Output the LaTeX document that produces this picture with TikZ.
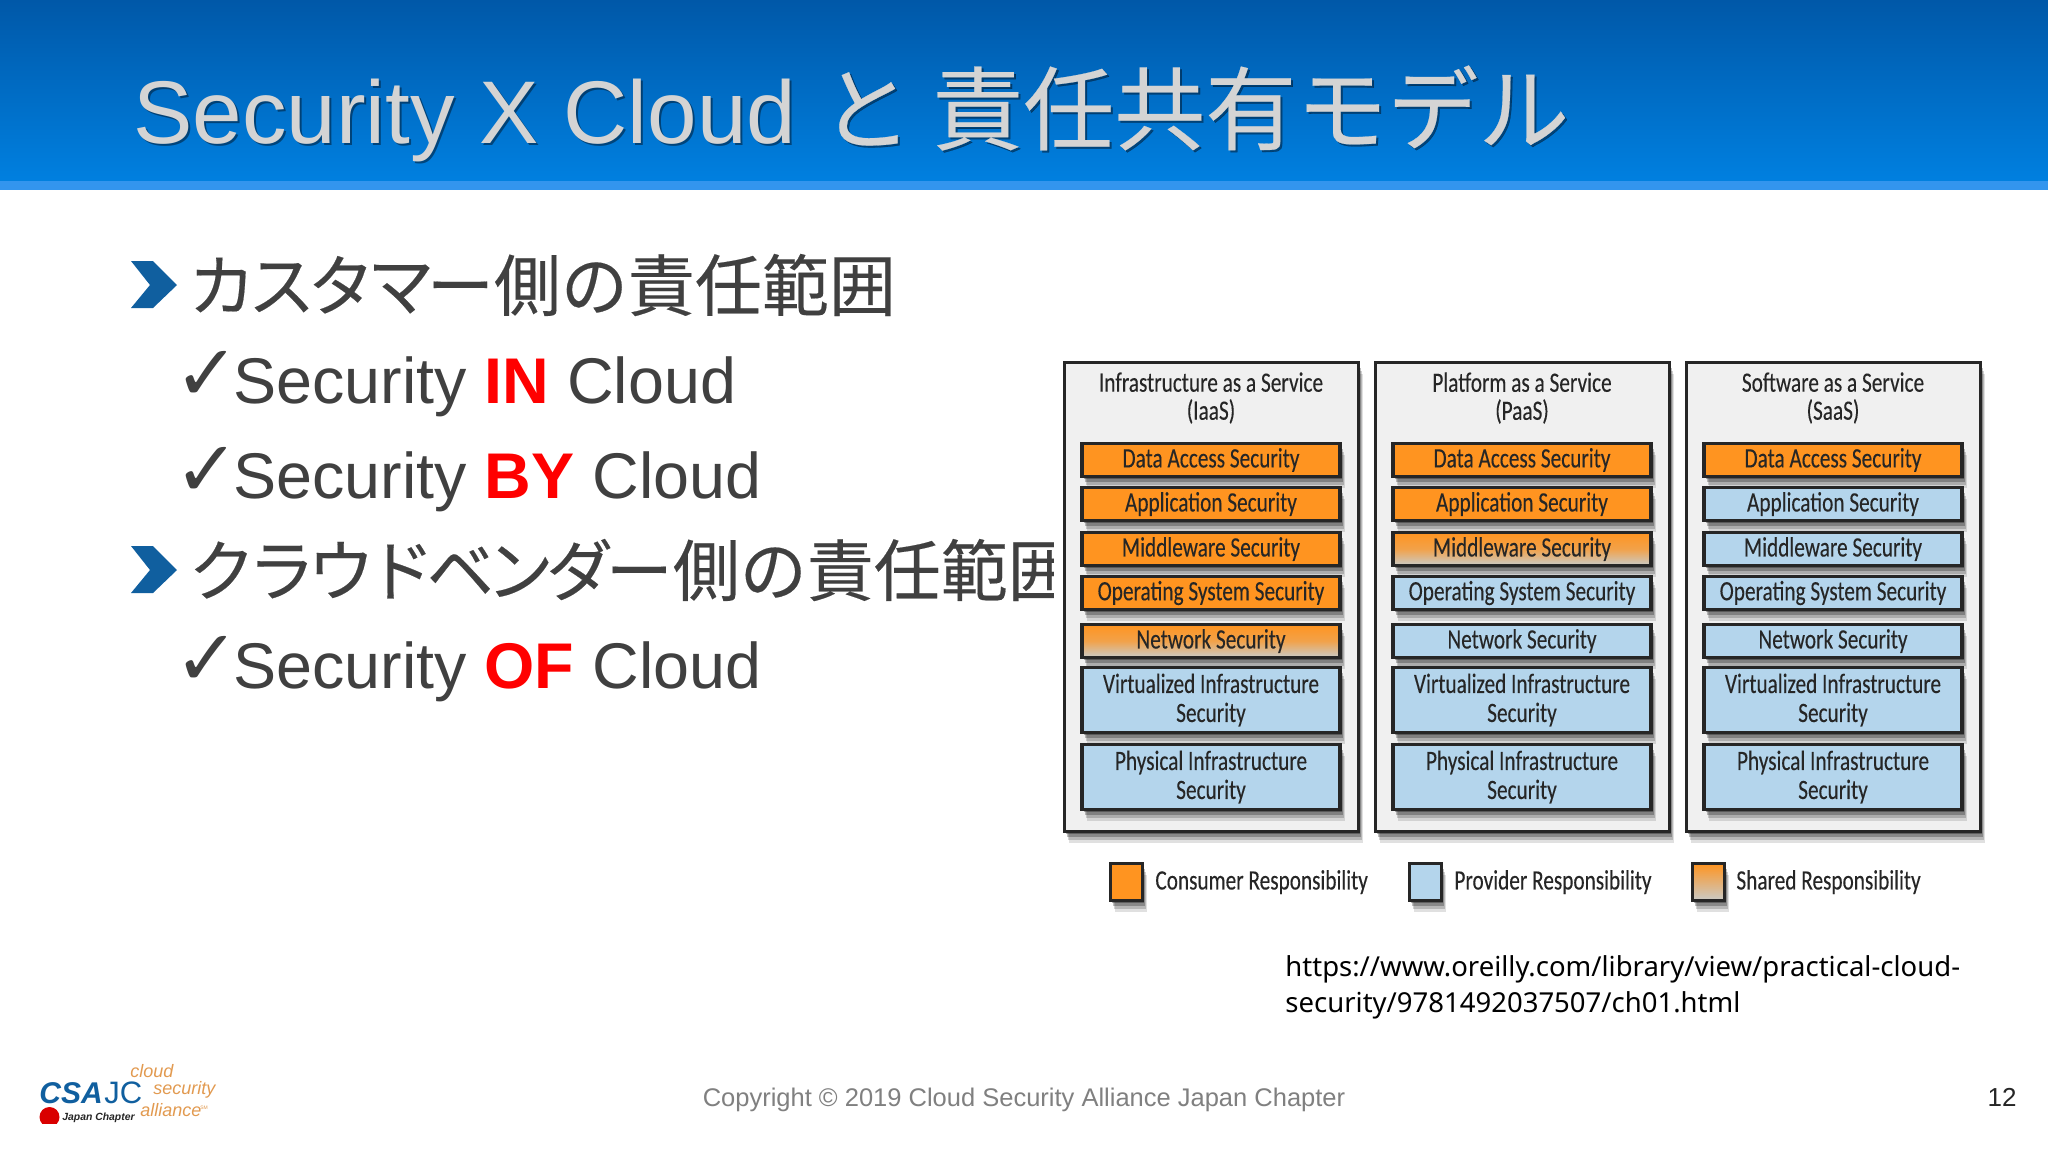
\documentclass[tikz,border=0pt]{standalone}
\usepackage{fontspec}
\usetikzlibrary{shadows}
\setmainfont{Liberation Sans}
\newfontfamily\cjkfont[FakeBold=0.25]{Noto Sans CJK JP}
\newfontfamily\kanafont[FakeBold=0.25,LetterSpace=-11]{Noto Sans CJK JP}
\newfontfamily\urlfont{Noto Sans}
\newfontfamily\narrowfont[FakeStretch=0.76,FakeBold=0.2]{Carlito}
\newfontfamily\checkfont{DejaVu Sans}
\definecolor{bodygray}{HTML}{404040}
\definecolor{consumer}{HTML}{FF9420}
\definecolor{provider}{HTML}{B4D5EC}
\definecolor{sharedlow}{HTML}{C9CBC8}
\definecolor{panelgray}{HTML}{F0F0F0}
\definecolor{csablue}{HTML}{105F9F}
\definecolor{csaorange}{HTML}{E29A50}
\definecolor{headtop}{HTML}{0058A8}
\definecolor{headlow}{HTML}{0080E0}
\definecolor{headstrip}{HTML}{3395EE}

\begin{document}
\begin{tikzpicture}[x=0.5pt, y=-0.5pt,
	softshadow/.style={drop shadow={shadow xshift=2.5pt, shadow yshift=-5.5pt, fill=black, opacity=0.12}, drop shadow={shadow xshift=2pt, shadow yshift=-4pt, fill=black, opacity=0.18}, drop shadow={shadow xshift=1.5pt, shadow yshift=-2.5pt, fill=black, opacity=0.25}, drop shadow={shadow xshift=1pt, shadow yshift=-1pt, fill=black, opacity=0.3}},
	panelbox/.style={draw=black!85, line width=1.5pt, fill=panelgray, minimum width=147pt, minimum height=234.5pt, inner sep=0pt, softshadow},
	secbox/.style={draw=black!85, line width=1.7pt, minimum width=129pt, align=center, inner sep=0pt, text=black!85, font=\narrowfont\fontsize{14}{14.5}\selectfont, softshadow},
	consumerbox/.style={secbox, fill=consumer, minimum height=16.5pt},
	providerbox/.style={secbox, fill=provider, minimum height=16.5pt},
	sharedbox/.style={secbox, top color=consumer, bottom color=sharedlow, middle color=consumer!75!sharedlow, minimum height=16.5pt},
	tallbox/.style={providerbox, minimum height=32.5pt},
	swatch/.style={draw=black!85, line width=1.5pt, minimum width=16pt, minimum height=18.5pt, inner sep=0pt, softshadow},
	paneltitle/.style={align=center, inner sep=0pt, text=black!85, font=\narrowfont\fontsize{14}{14}\selectfont},
	legendtext/.style={anchor=west, inner sep=0pt, text=black!85, font=\narrowfont\fontsize{14}{15}\selectfont},
	headline/.style={anchor=west, inner sep=0pt, text=bodygray, font=\fontsize{33.5}{36}\selectfont},
	subline/.style={anchor=base west, inner sep=0pt, text=bodygray, font=\fontsize{32.3}{36}\selectfont},
	tick/.style={anchor=base west, inner sep=0pt, text=bodygray, font=\checkfont\fontsize{39}{44}\selectfont},
	titletext/.style={anchor=base west, inner sep=0pt, font=\fontsize{44.5}{50}\selectfont}]
	
	\useasboundingbox (0,0) rectangle (2048,1152);
	\fill[white] (0,0) rectangle (2048,1152);
	
	% header
	\shade[top color=headtop, bottom color=headlow] (0,0) rectangle (2048,182);
	\fill[headstrip] (0,181) rectangle (2048,190);
	\node[titletext, text=black!70!headtop, opacity=0.55] at (135,145) {Security X Cloud {\cjkfont\fontsize{45.5}{50}\selectfont と 責任共有モデル}};
	\node[titletext, text=black!17] (title) at (133,143) {Security X Cloud {\cjkfont\fontsize{45.5}{50}\selectfont と 責任共有モデル}};
	
	% left text
	\fill[csablue] (131,261) -- (153,261) -- (177,285) -- (153,308) -- (131,308) -- (150,285) -- cycle;
	\node[headline] (h1) at (188,285) {{\kanafont カスタマー}{\cjkfont 側の責任範囲}};
	\node[tick] (t1) at (174,400) {✓};
	\node[subline] (s1) at (233,403) {Security {\color{red}\textbf{IN}} Cloud};
	\node[tick] (t2) at (174,496) {✓};
	\node[subline] (s2) at (233,498) {Security {\color{red}\textbf{BY}} Cloud};
	\fill[csablue] (131,546) -- (153,546) -- (177,570) -- (153,593) -- (131,593) -- (150,570) -- cycle;
	\node[headline] (h2) at (188,570) {{\kanafont クラウドベンダー}{\cjkfont 側の責任範囲}};
	\node[tick] (t3) at (174,685) {✓};
	\node[subline] (s3) at (233,688) {Security {\color{red}\textbf{OF}} Cloud};
	
	% the picture covers the end of the second line
	\fill[white] (1054,340) rectangle (2000,930);
	
	% panels
	\node[panelbox] (iaas) at (1211,597) {};
	\node[panelbox] (paas) at (1522,597) {};
	\node[panelbox] (saas) at (1833,597) {};
	\node[paneltitle] (iaastitle) at (1211,398) {Infrastructure as a Service\\(IaaS)};
	\node[paneltitle] (paastitle) at (1522,398) {Platform as a Service\\(PaaS)};
	\node[paneltitle] (saastitle) at (1833,398) {Software as a Service\\(SaaS)};
	
	\node[consumerbox] (i1) at (1211,460) {Data Access Security};
	\node[consumerbox] (i2) at (1211,504) {Application Security};
	\node[consumerbox] (i3) at (1211,549) {Middleware Security};
	\node[consumerbox] (i4) at (1211,593) {Operating System Security};
	\node[sharedbox] (i5) at (1211,641) {Network Security};
	\node[tallbox] (i6) at (1211,700) {Virtualized Infrastructure\\Security};
	\node[tallbox] (i7) at (1211,777) {Physical Infrastructure\\Security};
	
	\node[consumerbox] (p1) at (1522,460) {Data Access Security};
	\node[consumerbox] (p2) at (1522,504) {Application Security};
	\node[sharedbox] (p3) at (1522,549) {Middleware Security};
	\node[providerbox] (p4) at (1522,593) {Operating System Security};
	\node[providerbox] (p5) at (1522,641) {Network Security};
	\node[tallbox] (p6) at (1522,700) {Virtualized Infrastructure\\Security};
	\node[tallbox] (p7) at (1522,777) {Physical Infrastructure\\Security};
	
	\node[consumerbox] (s1b) at (1833,460) {Data Access Security};
	\node[providerbox] (s2b) at (1833,504) {Application Security};
	\node[providerbox] (s3b) at (1833,549) {Middleware Security};
	\node[providerbox] (s4b) at (1833,593) {Operating System Security};
	\node[providerbox] (s5b) at (1833,641) {Network Security};
	\node[tallbox] (s6b) at (1833,700) {Virtualized Infrastructure\\Security};
	\node[tallbox] (s7b) at (1833,777) {Physical Infrastructure\\Security};
	
	% legend
	\node[swatch, fill=consumer] (l1) at (1126,882) {};
	\node[legendtext] (lt1) at (1155,882) {Consumer Responsibility};
	\node[swatch, fill=provider] (l2) at (1425,882) {};
	\node[legendtext] (lt2) at (1454,882) {Provider Responsibility};
	\node[swatch, top color=consumer, bottom color=sharedlow] (l3) at (1708,882) {};
	\node[legendtext] (lt3) at (1736,882) {Shared Responsibility};
	
	% source
	\node[anchor=base west, align=left, inner sep=0pt, text=black, font=\urlfont\fontsize{13.75}{18}\selectfont] (src) at (1285,1012) {https://www.oreilly.com/library/view/practical-cloud-\\security/9781492037507/ch01.html};
	
	% footer
	\node[text=black!50, inner sep=0pt, font=\fontsize{12.75}{15}\selectfont] (copy) at (1024,1100) {Copyright © 2019 Cloud Security Alliance Japan Chapter};
	\node[inner sep=0pt, text=black!85, font=\fontsize{13}{15}\selectfont] (page) at (2002,1097) {12};
	
	% logo
	\node[anchor=west, inner sep=0pt, text=csablue, font=\bfseries\itshape\fontsize{15}{18}\selectfont] (csa) at (39,1093) {CSA};
	\node[anchor=west, inner sep=0pt, text=csablue, font=\fontsize{15.5}{18}\selectfont] (jc) at (104,1093) {JC};
	\begin{scope}
		\clip (38,1105) rectangle (62,1123);
		\fill[red!85!black] (49.5,1117) circle[radius=10];
	\end{scope}
	\node[anchor=west, inner sep=0pt, text=black!85, font=\bfseries\itshape\fontsize{5.2}{6}\selectfont] (jp) at (62,1118) {Japan Chapter};
	\node[anchor=west, inner sep=0pt, text=csaorange, font=\itshape\fontsize{9}{9}\selectfont] (cl) at (130,1071) {cloud};
	\node[anchor=west, inner sep=0pt, text=csaorange, font=\itshape\fontsize{9}{9}\selectfont] (sec) at (153,1090) {security};
	\node[anchor=west, inner sep=0pt, text=csaorange, font=\itshape\fontsize{9}{9}\selectfont] (al) at (140,1110) {alliance};
	\node[anchor=west, inner sep=0pt, text=csaorange, font=\fontsize{2.5}{3}\selectfont] (sm) at (200,1108) {SM};
\end{tikzpicture}
\end{document}
